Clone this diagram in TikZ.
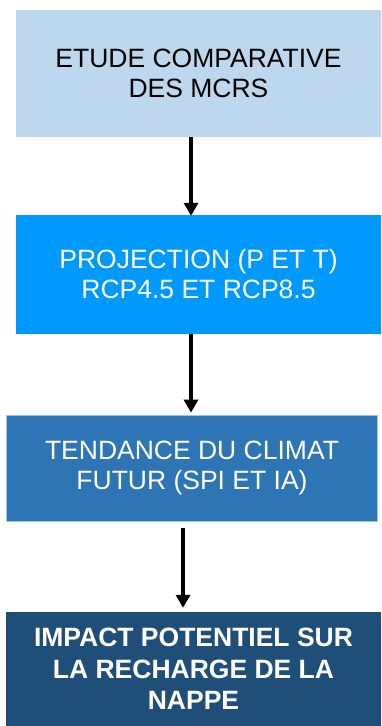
\documentclass[tikz,border=0pt]{standalone}
\usepackage{fontspec}
\setmainfont{Liberation Sans}
\usetikzlibrary{arrows.meta}

\definecolor{boxlight}{HTML}{BDD7EE}
\definecolor{boxbright}{HTML}{0099FF}
\definecolor{boxmid}{HTML}{2E75B6}
\definecolor{boxmidedge}{HTML}{9DC3E6}
\definecolor{boxdark}{HTML}{1F4E79}

\tikzset{
  stage/.style={rectangle, inner sep=0pt, align=center,
    font=\fontsize{26.5pt}{30pt}\selectfont},
  flow/.style={line width=4pt, -{Triangle[width=14pt,length=13pt]}}
}

\begin{document}
\begin{tikzpicture}[x=1pt,y=1pt]
  \useasboundingbox[fill=white] (0,0) rectangle (381,-726);

  \node[stage, fill=boxlight, text=black,
        minimum width=365pt, minimum height=127pt]
    (etude) at (198.5,-73.5) {ETUDE COMPARATIVE\\DES MCRS};

  \node[stage, fill=boxbright, text=white,
        minimum width=365pt, minimum height=119pt]
    (proj) at (198.5,-274.5) {PROJECTION (P ET T)\\RCP4.5 ET RCP8.5};

  \node[stage, fill=boxmid, draw=boxmidedge, line width=0.8pt, text=white,
        minimum width=371pt, minimum height=106pt]
    (tend) at (192,-468) {TENDANCE DU CLIMAT\\FUTUR (SPI ET IA)};

  \node[stage, fill=boxdark, text=white,
        minimum width=375pt, minimum height=114pt,
        font=\bfseries\fontsize{26.5pt}{31.5pt}\selectfont]
    (impact) at (193.5,-669) {IMPACT POTENTIEL SUR\\LA RECHARGE DE LA\\NAPPE};

  \draw[flow] ([xshift=-7.5pt]etude.south) -- ([xshift=-7.5pt,yshift=-1pt]proj.north);
  \draw[flow] ([xshift=-7.5pt]proj.south) -- ([xshift=-1pt,yshift=2pt]tend.north);
  \draw[flow] ([xshift=-9pt,yshift=-7pt]tend.south) -- ([xshift=-10.5pt,yshift=4pt]impact.north);
\end{tikzpicture}
\end{document}
